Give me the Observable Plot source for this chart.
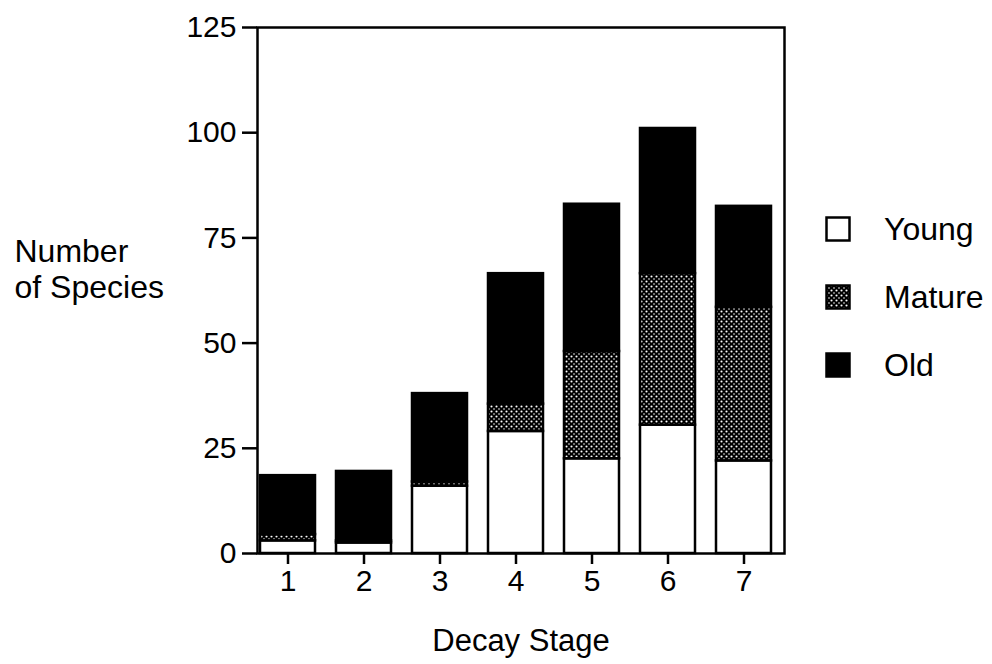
<!DOCTYPE html>
<html>
<head>
<meta charset="utf-8">
<script src="https://cdn.jsdelivr.net/npm/d3@7"></script>
<script src="https://cdn.jsdelivr.net/npm/@observablehq/plot@0.6"></script>
<style>
  body { margin: 0; background: #fff; }
  #wrap { position: relative; width: 992px; height: 664px; font-family: "Liberation Sans", Arial, Helvetica, sans-serif; color: #000; }
  #legend { position: absolute; left: 825px; top: 212px; }
  #legend .row { display: flex; align-items: center; height: 34px; margin-bottom: 34px; font-size: 32px; }
  #legend svg { margin-right: 33px; }
</style>
</head>
<body>
<div id="wrap"></div>
<script>
// Species counts per decay stage, split by age class of the stand
const stages = [1, 2, 3, 4, 5, 6, 7];
const ageClasses = ["Young", "Mature", "Old"];
const young  = [3, 2.5, 16, 29, 22.5, 30.5, 22];
const mature = [1.5, 0.5, 1, 6.5, 25.5, 36, 36.5];
const old    = [14, 16.5, 21, 31, 35, 34.5, 24];
const yTicks = [0, 25, 50, 75, 100, 125];

const rows = stages.flatMap((s, i) => [
  {stage: s, age: "Young", n: young[i]},
  {stage: s, age: "Mature", n: mature[i]},
  {stage: s, age: "Old", n: old[i]}
]);

const fills = ["white", "url(#stipple)", "black"];

const chart = Plot.plot({
  width: 992,
  height: 664,
  marginTop: 27,
  marginBottom: 111,
  marginLeft: 257,
  marginRight: 208,
  style: {fontFamily: "Liberation Sans, Arial, Helvetica, sans-serif", fontSize: "30px", color: "black", background: "white"},
  x: {domain: stages, paddingInner: 0.28, paddingOuter: 0.1, align: 0.2, label: null},
  y: {domain: [0, 125], label: null},
  color: {domain: ageClasses, range: fills},
  marks: [
    Plot.barY(rows, Plot.stackY({x: "stage", y: "n", fill: "age", stroke: "black", strokeWidth: 2.5})),
    Plot.frame({stroke: "black", strokeWidth: 2.5}),
    Plot.axisY({ticks: yTicks, tickSize: 15, tickPadding: 6, strokeWidth: 2.5, fontSize: 30, label: null}),
    Plot.axisX({tickSize: 11, tickPadding: 5, strokeWidth: 2.5, fontSize: 30, label: null}),
    Plot.text(["Decay Stage"], {frameAnchor: "bottom", text: d => d, dy: 97, fontSize: 31}),
    Plot.text(["Number\nof Species"], {frameAnchor: "left", text: d => d, textAnchor: "start", dx: -243, dy: -22, fontSize: 32, lineHeight: 1.12})
  ]
});

// Stipple pattern for the Mature segments: black ground with a grid of white dots
const ns = "http://www.w3.org/2000/svg";
const defs = document.createElementNS(ns, "defs");
defs.innerHTML = `
  <pattern id="stipple" width="5" height="5" patternUnits="userSpaceOnUse">
    <rect width="5" height="5" fill="black"/>
    <circle cx="1.5" cy="1.5" r="1.05" fill="white"/>
    <circle cx="4" cy="4" r="0.8" fill="white"/>
  </pattern>`;
chart.insertBefore(defs, chart.firstChild);

const wrap = document.getElementById("wrap");
wrap.appendChild(chart);

// Legend
const legend = document.createElement("div");
legend.id = "legend";
ageClasses.forEach((a, i) => {
  const row = document.createElement("div");
  row.className = "row";
  row.innerHTML = `<svg width="26" height="26"><rect x="1.5" y="1.5" width="23" height="23" fill="${fills[i]}" stroke="black" stroke-width="2.5"/></svg><span>${a}</span>`;
  legend.appendChild(row);
});
wrap.appendChild(legend);
</script>
</body>
</html>
